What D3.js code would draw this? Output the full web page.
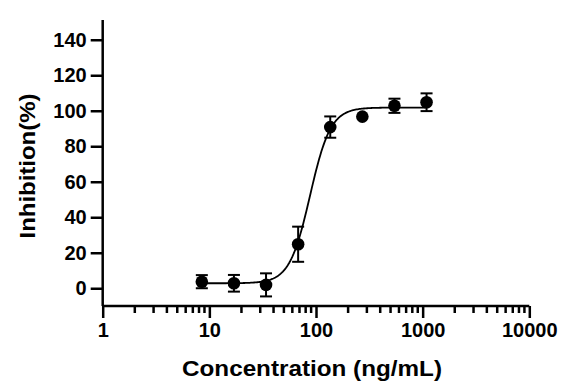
<!DOCTYPE html>
<html lang="en">
<head>
    <meta charset="UTF-8">
    <title>Inhibition curve</title>
    <script src="https://d3js.org/d3.v7.js"></script>
    <style>
        body { margin: 0; background: white; }
        svg text { font-family: "Liberation Sans", Arial, sans-serif; font-weight: bold; fill: black; }
    </style>
</head>
<body>
<svg id="chart" width="577" height="385"></svg>
<script>
// concentrations (ng/mL) and measured inhibition (%) with error
var conc = [8.5, 17, 34, 68, 136, 272, 544, 1088];
var inhib = [3.7, 2.8, 1.9, 24.8, 90.8, 96.7, 102.8, 104.8];
var err = [3.7, 4.7, 6.5, 9.9, 6.0, 0, 4.0, 5.0];

// fitted 4-parameter logistic curve
var fitBottom = 2.8, fitTop = 101.8, fitEC50 = 88, fitHill = 4.5;

var yTicks = [0, 20, 40, 60, 80, 100, 120, 140];
var xTicks = [1, 10, 100, 1000, 10000];

var svg = d3.select("#chart");

var x = d3.scaleLog().domain([1, 10000]).range([102.7, 529.3]);
var y = d3.scaleLinear().domain([-10, 150]).range([306, 22]);

// minor ticks on the log axis
var minor = [];
for (var d = 1; d < 10000; d *= 10) {
    for (var k = 2; k <= 9; k++) minor.push(d * k);
}

var xAxis = svg.append("g")
    .attr("transform", "translate(0," + y(-10) + ")")
    .call(d3.axisBottom(x).tickValues(xTicks).tickFormat(d3.format("d")).tickSize(12));
xAxis.selectAll(".tick text").attr("font-size", 20).attr("y", 30.7).attr("dy", 0);

svg.append("g")
    .attr("transform", "translate(0," + y(-10) + ")")
    .selectAll("line")
    .data(minor)
    .enter()
    .append("line")
      .attr("x1", function (d) { return x(d); })
      .attr("x2", function (d) { return x(d); })
      .attr("y1", 0)
      .attr("y2", 7)
      .attr("stroke", "black")
      .attr("stroke-width", 2.5);

var yAxis = svg.append("g")
    .attr("transform", "translate(" + x(1) + ",0)")
    .call(d3.axisLeft(y).tickValues(yTicks).tickSize(12).tickPadding(4));
yAxis.selectAll(".tick text").attr("font-size", 20);

svg.selectAll(".domain").attr("stroke-width", 2.5);
svg.selectAll(".tick line").attr("stroke-width", 2.5);
xAxis.select(".domain").attr("d", "M" + x(1) + ",0H" + x(10000));
yAxis.select(".domain").attr("d", "M0," + y(-10) + "V" + (y(150) - 2));

// fitted curve
var curveX = d3.range(Math.log10(conc[0]), Math.log10(conc[conc.length - 1]) + 0.001, 0.01)
    .map(function (l) { return Math.pow(10, l); });
var line = d3.line()
    .x(function (c) { return x(c); })
    .y(function (c) {
        return y(fitBottom + (fitTop - fitBottom) / (1 + Math.pow(fitEC50 / c, fitHill)));
    });
svg.append("path")
    .datum(curveX)
    .attr("d", line)
    .attr("fill", "none")
    .attr("stroke", "black")
    .attr("stroke-width", 1.8);

// error bars
var bars = svg.append("g").attr("stroke", "black").attr("stroke-width", 2);
conc.forEach(function (c, i) {
    if (err[i] <= 0) return;
    var cx = x(c);
    bars.append("line").attr("x1", cx).attr("x2", cx)
        .attr("y1", y(inhib[i] + err[i])).attr("y2", y(inhib[i] - err[i]));
    [inhib[i] + err[i], inhib[i] - err[i]].forEach(function (v) {
        bars.append("line").attr("x1", cx - 6).attr("x2", cx + 6)
            .attr("y1", y(v)).attr("y2", y(v));
    });
});

// points
svg.append("g")
    .selectAll("circle")
    .data(conc)
    .enter()
    .append("circle")
      .attr("cx", function (d) { return x(d); })
      .attr("cy", function (d, i) { return y(inhib[i]); })
      .attr("r", 6.3)
      .attr("fill", "black");

// axis titles
svg.append("text")
    .attr("x", 312)
    .attr("y", 376)
    .attr("text-anchor", "middle")
    .attr("font-size", 22.5)
    .attr("textLength", 260)
    .attr("lengthAdjust", "spacingAndGlyphs")
    .text("Concentration (ng/mL)");

svg.append("text")
    .attr("transform", "translate(35,166) rotate(-90)")
    .attr("text-anchor", "middle")
    .attr("font-size", 22)
    .attr("textLength", 145)
    .attr("lengthAdjust", "spacingAndGlyphs")
    .text("Inhibition(%)");
</script>
</body>
</html>
